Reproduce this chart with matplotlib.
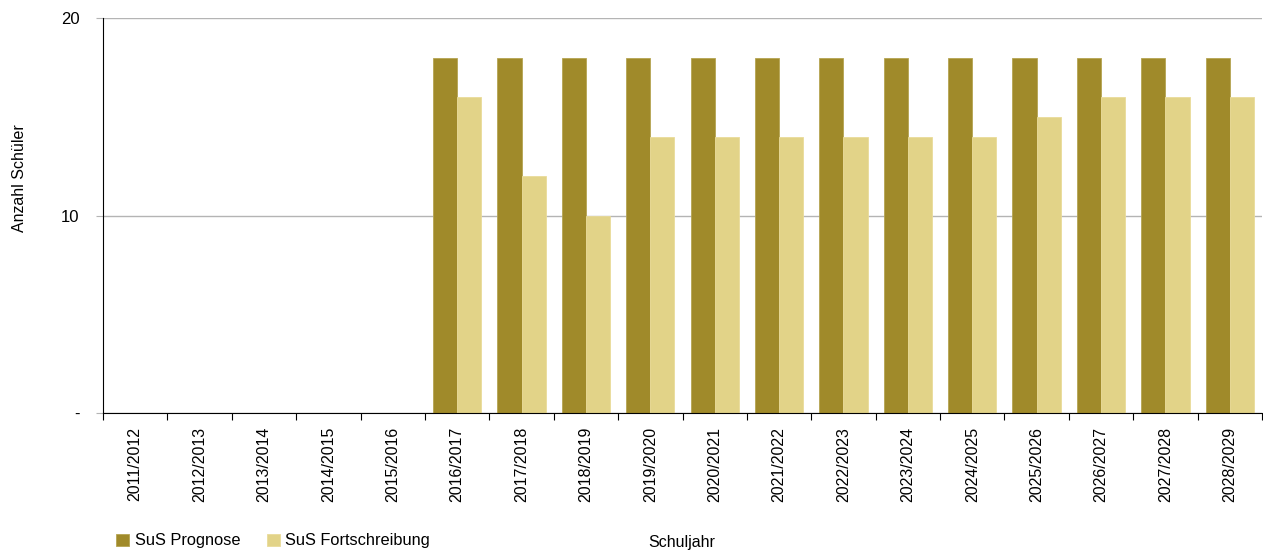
import numpy as np
import matplotlib.pyplot as plt
from matplotlib.ticker import FuncFormatter

plt.rcParams['font.family'] = ['Liberation Sans', 'DejaVu Sans']

years = ["2011/2012", "2012/2013", "2013/2014", "2014/2015", "2015/2016",
         "2016/2017", "2017/2018", "2018/2019", "2019/2020", "2020/2021",
         "2021/2022", "2022/2023", "2023/2024", "2024/2025", "2025/2026",
         "2026/2027", "2027/2028", "2028/2029"]
prognose = [0, 0, 0, 0, 0, 18, 18, 18, 18, 18, 18, 18, 18, 18, 18, 18, 18, 18]
fortschreibung = [0, 0, 0, 0, 0, 16, 12, 10, 14, 14, 14, 14, 14, 14, 15, 16, 16, 16]

c_dark = "#A08A2A"
c_light = "#E2D388"

fig = plt.figure(figsize=(12.63, 5.53), dpi=100)
ax = fig.add_axes([103/1263, 140/553, 1159/1263, 395/553])

x = np.arange(len(years))
w = 0.375
ax.bar(x + 0.125, prognose, w, align='edge', color=c_dark,
       edgecolor="#B5A452", linewidth=0.6, label="SuS Prognose", zorder=3)
ax.bar(x + 0.125 + w, fortschreibung, w, align='edge', color=c_light,
       edgecolor="#EADB9A", linewidth=0.6, label="SuS Fortschreibung", zorder=3)

ax.set_xlim(0, len(years))
ax.set_ylim(0, 20)
ax.set_yticks([0, 10, 20])
ax.yaxis.set_major_formatter(FuncFormatter(lambda v, p: "-" if v == 0 else f"{v:.0f}"))
ax.grid(axis='y', color="#B4B4B4", linewidth=1, zorder=0)
ax.tick_params(axis='y', length=5, color="#B4B4B4", labelsize=12, pad=12)

ax.set_xticks(np.arange(len(years) + 1))
ax.set_xticklabels([])
ax.set_xticks(x + 0.5, minor=True)
ax.set_xticklabels(years, minor=True, rotation=90, fontsize=11.5)
ax.tick_params(axis='x', which='major', length=5, color='black')
ax.tick_params(axis='x', which='minor', length=0, pad=10)

for s in ['top', 'right']:
    ax.spines[s].set_visible(False)
ax.spines['left'].set_color('black')
ax.spines['bottom'].set_color('black')
ax.spines['left'].set_zorder(4)
ax.spines['bottom'].set_zorder(4)

fig.text(20/1263, 1 - 178/553, "Anzahl Schüler", rotation=90, ha='center',
         va='center', fontsize=11.5)
fig.text(682/1263, 1 - 542/553, "Schuljahr", ha='center', va='center', fontsize=11.5)

fig.legend(loc='center left', bbox_to_anchor=(116/1263, 1 - 541/553), ncol=2,
           frameon=False, fontsize=11.8, handlelength=0.8, handleheight=0.8,
           handletextpad=0.35, columnspacing=1.6, borderaxespad=0, borderpad=0)

fig.savefig("out.png", dpi=100)
